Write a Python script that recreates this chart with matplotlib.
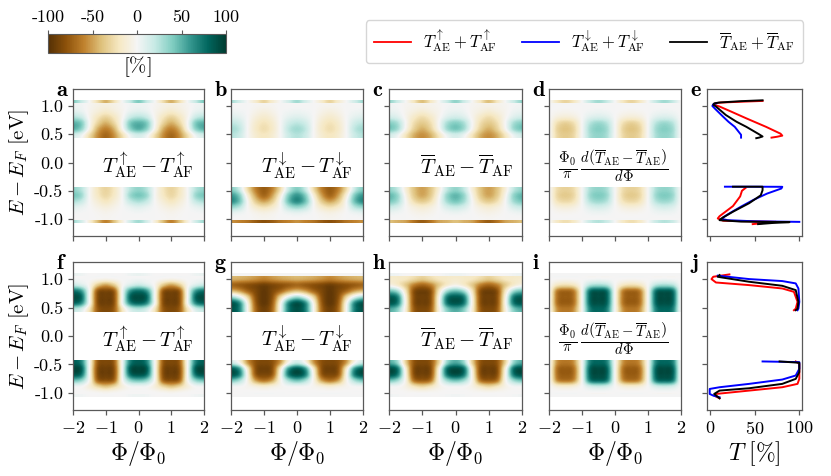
import numpy as np
import matplotlib
matplotlib.use('Agg')
from matplotlib import pyplot as plt
from matplotlib.lines import Line2D
from matplotlib.colors import Normalize
from matplotlib.cm import ScalarMappable

plt.rcParams['font.family'] = 'serif'
plt.rcParams['font.serif'] = ['cmr10']
plt.rcParams['mathtext.fontset'] = 'cm'
plt.rcParams['axes.unicode_minus'] = False
plt.rcParams['axes.formatter.use_mathtext'] = True

# flux columns of the maps and energy rows (row centres) of the two bands
PHI = [-2, -1.75, -1.5, -1.25, -1, -0.75, -0.5, -0.25, 0, 0.25, 0.5, 0.75, 1, 1.25, 1.5, 1.75, 2]
E_UP = [1.00, 0.89, 0.79, 0.69, 0.58, 0.48]
E_LO = [-0.48, -0.58, -0.68, -0.78, -0.88, -0.98]
E_STRIP_TOP = 1.09
E_STRIP_BOT = -1.07
Z0 = [0] * 17

# map values in %, upper band: first row is the thin strip at the top
A_UP = [[40, 20, 0, -25, -45, -25, 0, 20, 40, 20, 0, -25, -45, -25, 0, 20, 40],
        [3, 2, -2, -6, -8, -6, -2, 2, 3, 2, -2, -6, -8, -6, -2, 2, 3],
        [8, 5, -3, -10, -15, -10, -3, 5, 8, 5, -3, -10, -15, -10, -3, 5, 8],
        [25, 18, -3, -20, -30, -20, -3, 18, 25, 18, -3, -20, -30, -20, -3, 18, 25],
        [50, 40, 0, -30, -45, -30, 0, 40, 50, 40, 0, -30, -45, -30, 0, 40, 50],
        [50, 35, -5, -45, -60, -45, -5, 35, 50, 35, -5, -45, -60, -45, -5, 35, 50],
        [15, 5, -25, -55, -70, -55, -25, 5, 15, 5, -25, -55, -70, -55, -25, 5, 15]]
# lower band: last row is the thin strip at the bottom
A_LO = [[35, 25, 0, -20, -30, -20, 0, 25, 35, 25, 0, -20, -30, -20, 0, 25, 35],
        [42, 32, 0, -18, -28, -18, 0, 32, 42, 32, 0, -18, -28, -18, 0, 32, 42],
        [28, 20, 0, -12, -20, -12, 0, 20, 28, 20, 0, -12, -20, -12, 0, 20, 28],
        [10, 6, 0, -6, -10, -6, 0, 6, 10, 6, 0, -6, -10, -6, 0, 6, 10],
        [2, 1, 0, -2, -4, -2, 0, 1, 2, 1, 0, -2, -4, -2, 0, 1, 2],
        [0, 0, 0, -1, -2, -1, 0, 0, 0, 0, 0, -1, -2, -1, 0, 0, 0],
        [30, 15, -10, -40, -60, -40, -10, 15, 30, 15, -10, -40, -60, -40, -10, 15, 30]]

B_UP = [[30, 15, 0, -15, -30, -15, 0, 15, 30, 15, 0, -15, -30, -15, 0, 15, 30],
        [0, 0, 0, -2, -3, -2, 0, 0, 0, 0, 0, -2, -3, -2, 0, 0, 0],
        [3, 2, 0, -5, -8, -5, 0, 2, 3, 2, 0, -5, -8, -5, 0, 2, 3],
        [10, 7, 0, -10, -15, -10, 0, 7, 10, 7, 0, -10, -15, -10, 0, 7, 10],
        [22, 16, 0, -15, -22, -15, 0, 16, 22, 16, 0, -15, -22, -15, 0, 16, 22],
        [30, 22, 0, -17, -25, -17, 0, 22, 30, 22, 0, -17, -25, -17, 0, 22, 30],
        [25, 18, 0, -14, -20, -14, 0, 18, 25, 18, 0, -14, -20, -14, 0, 18, 25]]
B_LO = [[40, 20, -25, -60, -75, -60, -25, 20, 40, 20, -25, -60, -75, -60, -25, 20, 40],
        [60, 40, -10, -50, -70, -50, -10, 40, 60, 40, -10, -50, -70, -50, -10, 40, 60],
        [65, 45, 0, -35, -50, -35, 0, 45, 65, 45, 0, -35, -50, -35, 0, 45, 65],
        [35, 25, 0, -17, -25, -17, 0, 25, 35, 25, 0, -17, -25, -17, 0, 25, 35],
        [8, 5, 0, -5, -8, -5, 0, 5, 8, 5, 0, -5, -8, -5, 0, 5, 8],
        [0, 0, 0, -2, -3, -2, 0, 0, 0, 0, 0, -2, -3, -2, 0, 0, 0],
        [-55, -60, -65, -75, -80, -75, -65, -60, -55, -60, -65, -75, -80, -75, -65, -60, -55]]

C_UP = [[35, 18, 0, -20, -40, -20, 0, 18, 35, 18, 0, -20, -40, -20, 0, 18, 35],
        [2, 1, -2, -4, -5, -4, -2, 1, 2, 1, -2, -4, -5, -4, -2, 1, 2],
        [5, 3, -3, -8, -12, -8, -3, 3, 5, 3, -3, -8, -12, -8, -3, 3, 5],
        [15, 10, -3, -17, -25, -17, -3, 10, 15, 10, -3, -17, -25, -17, -3, 10, 15],
        [38, 28, 0, -25, -35, -25, 0, 28, 38, 28, 0, -25, -35, -25, 0, 28, 38],
        [42, 30, -3, -32, -45, -32, -3, 30, 42, 30, -3, -32, -45, -32, -3, 30, 42],
        [15, 5, -20, -45, -55, -45, -20, 5, 15, 5, -20, -45, -55, -45, -20, 5, 15]]
C_LO = [[35, 22, -10, -38, -50, -38, -10, 22, 35, 22, -10, -38, -50, -38, -10, 22, 35],
        [48, 34, -4, -35, -48, -35, -4, 34, 48, 34, -4, -35, -48, -35, -4, 34, 48],
        [42, 30, 0, -25, -35, -25, 0, 30, 42, 30, 0, -25, -35, -25, 0, 30, 42],
        [20, 14, 0, -10, -15, -10, 0, 14, 20, 14, 0, -10, -15, -10, 0, 14, 20],
        [5, 3, 0, -4, -6, -4, 0, 3, 5, 3, 0, -4, -6, -4, 0, 3, 5],
        [0, 0, 0, -1, -2, -1, 0, 0, 0, 0, 0, -1, -2, -1, 0, 0, 0],
        [-40, -45, -50, -65, -75, -65, -50, -45, -40, -45, -50, -65, -75, -65, -50, -45, -40]]

D_UP = [[0, -20, -30, -20, 0, 20, 30, 20, 0, -20, -30, -20, 0, 20, 30, 20, 0],
        Z0,
        [0, -2, -3, -2, 0, 2, 3, 2, 0, -2, -3, -2, 0, 2, 3, 2, 0],
        [0, -9, -12, -9, 0, 9, 12, 9, 0, -9, -12, -9, 0, 9, 12, 9, 0],
        [0, -24, -32, -24, 0, 24, 32, 24, 0, -24, -32, -24, 0, 24, 32, 24, 0],
        [0, -30, -38, -30, 0, 30, 38, 30, 0, -30, -38, -30, 0, 30, 38, 30, 0],
        [0, -28, -35, -28, 0, 28, 35, 28, 0, -28, -35, -28, 0, 28, 35, 28, 0]]
D_LO = [[0, -26, -32, -26, 0, 28, 35, 28, 0, -26, -32, -26, 0, 28, 35, 28, 0],
        [0, -28, -35, -28, 0, 32, 40, 32, 0, -28, -35, -28, 0, 32, 40, 32, 0],
        [0, -22, -28, -22, 0, 25, 32, 25, 0, -22, -28, -22, 0, 25, 32, 25, 0],
        [0, -9, -12, -9, 0, 11, 15, 11, 0, -9, -12, -9, 0, 11, 15, 11, 0],
        [0, -2, -3, -2, 0, 3, 4, 3, 0, -2, -3, -2, 0, 3, 4, 3, 0],
        Z0,
        [0, -18, -25, -18, 0, 18, 25, 18, 0, -18, -25, -18, 0, 18, 25, 18, 0]]

F_UP = [[5, 3, 0, 0, 0, 0, 0, 3, 5, 3, 0, 0, 0, 0, 0, 3, 5],
        [2, 1, 0, -3, -5, -3, 0, 1, 2, 1, 0, -3, -5, -3, 0, 1, 2],
        [20, 12, -3, -35, -50, -35, -3, 12, 20, 12, -3, -35, -50, -35, -3, 12, 20],
        [75, 60, 0, -75, -85, -75, 0, 60, 75, 60, 0, -75, -85, -75, 0, 60, 75],
        [92, 80, 0, -80, -90, -80, 0, 80, 92, 80, 0, -80, -90, -80, 0, 80, 92],
        [80, 65, 0, -80, -90, -80, 0, 65, 80, 65, 0, -80, -90, -80, 0, 65, 80],
        [25, 15, -20, -75, -85, -75, -20, 15, 25, 15, -20, -75, -85, -75, -20, 15, 25]]
F_LO = [[85, 70, 0, -75, -85, -75, 0, 70, 85, 70, 0, -75, -85, -75, 0, 70, 85],
        [95, 85, 0, -80, -90, -80, 0, 85, 95, 85, 0, -80, -90, -80, 0, 85, 95],
        [88, 75, 0, -80, -90, -80, 0, 75, 88, 75, 0, -80, -90, -80, 0, 75, 88],
        [45, 35, -3, -70, -80, -70, -3, 35, 45, 35, -3, -70, -80, -70, -3, 35, 45],
        [3, 2, -10, -30, -40, -30, -10, 2, 3, 2, -10, -30, -40, -30, -10, 2, 3],
        [0, 0, -1, -3, -5, -3, -1, 0, 0, 0, -1, -3, -5, -3, -1, 0, 0],
        [3, 2, 0, 0, 0, 0, 0, 2, 3, 2, 0, 0, 0, 0, 0, 2, 3]]

G_UP = [Z0,
        [-45, -47, -50, -55, -60, -55, -50, -47, -45, -47, -50, -55, -60, -55, -50, -47, -45],
        [-70, -75, -80, -85, -90, -85, -80, -75, -70, -75, -80, -85, -90, -85, -80, -75, -70],
        [-40, -50, -70, -85, -95, -85, -70, -50, -40, -50, -70, -85, -95, -85, -70, -50, -40],
        [30, 10, -30, -80, -95, -80, -30, 10, 30, 10, -30, -80, -95, -80, -30, 10, 30],
        [88, 65, -5, -75, -95, -75, -5, 65, 88, 65, -5, -75, -95, -75, -5, 65, 88],
        [90, 70, 0, -70, -90, -70, 0, 70, 90, 70, 0, -70, -90, -70, 0, 70, 90]]
G_LO = [[20, 0, -50, -80, -85, -80, -50, 0, 20, 0, -50, -80, -85, -80, -50, 0, 20],
        [85, 60, -15, -80, -90, -80, -15, 60, 85, 60, -15, -80, -90, -80, -15, 60, 85],
        [90, 70, -5, -75, -85, -75, -5, 70, 90, 70, -5, -75, -85, -75, -5, 70, 90],
        [45, 30, -5, -50, -65, -50, -5, 30, 45, 30, -5, -50, -65, -50, -5, 30, 45],
        [3, 2, -3, -10, -15, -10, -3, 2, 3, 2, -3, -10, -15, -10, -3, 2, 3],
        Z0,
        Z0]

H_UP = [[3, 2, 0, 0, 0, 0, 0, 2, 3, 2, 0, 0, 0, 0, 0, 2, 3],
        [-15, -17, -20, -28, -35, -28, -20, -17, -15, -17, -20, -28, -35, -28, -20, -17, -15],
        [-5, -15, -35, -60, -70, -60, -35, -15, -5, -15, -35, -60, -70, -60, -35, -15, -5],
        [45, 30, -20, -80, -90, -80, -20, 30, 45, 30, -20, -80, -90, -80, -20, 30, 45],
        [85, 70, -8, -80, -90, -80, -8, 70, 85, 70, -8, -80, -90, -80, -8, 70, 85],
        [88, 72, -5, -80, -90, -80, -5, 72, 88, 72, -5, -80, -90, -80, -5, 72, 88],
        [55, 40, -10, -75, -85, -75, -10, 40, 55, 40, -10, -75, -85, -75, -10, 40, 55]]
H_LO = [[55, 35, -30, -78, -85, -78, -30, 35, 55, 35, -30, -78, -85, -78, -30, 35, 55],
        [92, 75, -10, -82, -90, -82, -10, 75, 92, 75, -10, -82, -90, -82, -10, 75, 92],
        [90, 72, -5, -80, -88, -80, -5, 72, 90, 72, -5, -80, -88, -80, -5, 72, 90],
        [45, 32, -5, -65, -75, -65, -5, 32, 45, 32, -5, -65, -75, -65, -5, 32, 45],
        [3, 2, -6, -22, -30, -22, -6, 2, 3, 2, -6, -22, -30, -22, -6, 2, 3],
        [0, 0, -1, -2, -3, -2, -1, 0, 0, 0, -1, -2, -3, -2, -1, 0, 0],
        [2, 1, 0, 0, 0, 0, 0, 1, 2, 1, 0, 0, 0, 0, 0, 1, 2]]

I_UP = [Z0,
        [0, -1, -2, -1, 0, 1, 2, 1, 0, -1, -2, -1, 0, 1, 2, 1, 0],
        [0, -20, -25, -20, 0, 25, 30, 25, 0, -20, -25, -20, 0, 25, 30, 25, 0],
        [0, -60, -70, -60, 0, 75, 85, 75, 0, -60, -70, -60, 0, 75, 85, 75, 0],
        [0, -65, -75, -65, 0, 82, 92, 82, 0, -65, -75, -65, 0, 82, 92, 82, 0],
        [0, -65, -75, -65, 0, 80, 90, 80, 0, -65, -75, -65, 0, 80, 90, 80, 0],
        [0, -55, -65, -55, 0, 70, 80, 70, 0, -55, -65, -55, 0, 70, 80, 70, 0]]
I_LO = [[0, -55, -65, -55, 0, 70, 80, 70, 0, -55, -65, -55, 0, 70, 80, 70, 0],
        [0, -65, -75, -65, 0, 82, 92, 82, 0, -65, -75, -65, 0, 82, 92, 82, 0],
        [0, -65, -75, -65, 0, 82, 92, 82, 0, -65, -75, -65, 0, 82, 92, 82, 0],
        [0, -55, -65, -55, 0, 70, 80, 70, 0, -55, -65, -55, 0, 70, 80, 70, 0],
        [0, -12, -15, -12, 0, 16, 20, 16, 0, -12, -15, -12, 0, 16, 20, 16, 0],
        Z0,
        Z0]

nan = np.nan
# panel e: total transmissions T [%] against E - E_F [eV]
E_RED_E = [1.089, 1.075, 1.06, 1.045, 1.02, 0.99, 0.9, 0.78, 0.63, 0.51, 0.475, 0.455, 0.44, nan,
           -0.45, -0.5, -0.6, -0.77, -0.95, -0.99, -1.03, -1.05, -1.07, -1.09]
T_RED_E = [59, 35, 12, 6, 5, 11, 24, 41, 63, 79, 81, 75, 69, nan,
           40, 36, 34, 26, 11, 9, 15, 74, 60, 48]
E_BLUE_E = [1.05, 1.03, 1.0, 0.95, 0.81, 0.72, 0.63, 0.55, 0.49, 0.44, nan,
            -0.428, -0.428, -0.43, -0.46, -0.55, -0.66, -0.78, -0.9, -0.97, -1.0, -1.02, -1.04, -1.05]
T_BLUE_E = [8, 4, 3, 6, 15, 21, 28, 32, 35, 35, nan,
            17, 50, 81, 80, 64, 49, 35, 22, 15, 14, 20, 50, 100]
E_BLACK_E = [1.1, 1.085, 1.06, 1.045, 1.02, 0.99, 0.84, 0.72, 0.63, 0.5, 0.46, 0.44, 0.43, nan,
             -0.428, -0.428, -0.49, -0.58, -0.72, -0.87, -0.99, -1.02, -1.045, -1.055, -1.07, -1.09]
T_BLACK_E = [59, 35, 10, 5, 4, 7, 18, 30, 41, 55, 59, 55, 52, nan,
             26, 59, 59, 57, 44, 26, 13, 11, 35, 89, 70, 54]

# panel j
E_RED_J = [1.082, 1.041, 1.0, 0.94, 0.894, 0.835, 0.776, 0.6, 0.48, 0.453, nan,
           -0.447, -0.488, -0.753, -0.841, -0.9, -0.959, -1.018, -1.047, -1.094]
T_RED_J = [22, 4, 2, 7, 44, 81, 94, 98, 96, 94, nan,
           96, 100, 100, 98, 81, 44, 7, 5, 11]
E_BLUE_J = [1.06, 1.0, 0.965, 0.924, 0.835, 0.6, 0.48, 0.453, nan,
            -0.447, -0.459, -0.576, -0.694, -0.765, -0.841, -0.9, -0.93, -1.018, -1.047, -1.076]
T_BLUE_J = [9, 44, 81, 96, 99, 100, 99, 98, nan,
            59, 100, 100, 96, 81, 44, 11, 0, 0, 4, 11]
E_BLACK_J = [1.07, 1.04, 0.953, 0.882, 0.806, 0.6, 0.48, 0.453, nan,
             -0.447, -0.47, -0.635, -0.753, -0.841, -0.918, -0.959, -1.018, -1.094]
T_BLACK_J = [11, 9, 44, 81, 96, 99, 98, 96, nan,
             78, 100, 100, 96, 81, 44, 11, 5, 11]

LETTERS = ['a', 'b', 'c', 'd', 'e', 'f', 'g', 'h', 'i', 'j']
TEXTS = [r'$T^{\uparrow}_{\mathrm{AE}}-T^{\uparrow}_{\mathrm{AF}}$',
         r'$T^{\downarrow}_{\mathrm{AE}}-T^{\downarrow}_{\mathrm{AF}}$',
         r'$\overline{T}_{\mathrm{AE}}-\overline{T}_{\mathrm{AF}}$',
         r'$\frac{\Phi_0}{\pi}\,\frac{d\left(\overline{T}_{\mathrm{AE}}-\overline{T}_{\mathrm{AE}}\right)}{d\Phi}$']
LEGEND = [r'$T^{\uparrow}_{\mathrm{AE}}+T^{\uparrow}_{\mathrm{AF}}$',
          r'$T^{\downarrow}_{\mathrm{AE}}+T^{\downarrow}_{\mathrm{AF}}$',
          r'$\overline{T}_{\mathrm{AE}}+\overline{T}_{\mathrm{AF}}$']

W, H = 831, 476
fig = plt.figure(figsize=(W / 100, H / 100), dpi=100)
norm = Normalize(-100, 100)
cmap = 'BrBG'
GREY = '0.35'
INTERP = 'catrom'


def px_axes(l, t, r, b):
    return fig.add_axes([l / W, 1 - b / H, (r - l) / W, (b - t) / H])


def style(ax):
    for s in ax.spines.values():
        s.set_color(GREY)
        s.set_linewidth(0.9)
    ax.tick_params(direction='out', length=3.5, width=0.9, color=GREY, labelsize=13)


def draw_map(ax, up, lo):
    up = np.array(up, float)
    lo = np.array(lo, float)
    dphi = PHI[1] - PHI[0]
    x0, x1 = PHI[0] - dphi / 2, PHI[-1] + dphi / 2
    kw = dict(cmap=cmap, norm=norm, aspect='auto', interpolation=INTERP,
              interpolation_stage='data')
    st = (E_UP[0] - E_UP[-1]) / (len(E_UP) - 1)
    top_main = E_UP[0] + st / 2
    ax.imshow(up[1:], extent=[x0, x1, E_UP[-1] - st / 2, top_main], **kw)
    ax.imshow(up[:1], extent=[x0, x1, top_main, E_STRIP_TOP], **kw)
    st = (E_LO[0] - E_LO[-1]) / (len(E_LO) - 1)
    bot_main = E_LO[-1] - st / 2
    ax.imshow(lo[:-1], extent=[x0, x1, bot_main, E_LO[0] + st / 2], **kw)
    ax.imshow(lo[-1:], extent=[x0, x1, E_STRIP_BOT, bot_main], **kw)
    ax.set_xlim(-2, 2)


cols = [(73, 204), (231, 363), (389, 522), (549, 681), (707, 802)]
rows = [(89, 236), (262, 410)]
maps = [[A_UP, A_LO], [B_UP, B_LO], [C_UP, C_LO], [D_UP, D_LO],
        [F_UP, F_LO], [G_UP, G_LO], [H_UP, H_LO], [I_UP, I_LO]]
text_x = [0.3, 0.3, 0.35, -0.05]

lines = [[(T_RED_E, E_RED_E, 'red'), (T_BLUE_E, E_BLUE_E, 'blue'), (T_BLACK_E, E_BLACK_E, 'black')],
         [(T_RED_J, E_RED_J, 'red'), (T_BLUE_J, E_BLUE_J, 'blue'), (T_BLACK_J, E_BLACK_J, 'black')]]

k = 0
for r, (t, b) in enumerate(rows):
    for c, (l, rr) in enumerate(cols):
        ax = px_axes(l, t, rr, b)
        style(ax)
        if c < 4:
            up, lo = maps[r * 4 + c]
            draw_map(ax, up, lo)
            ax.text(text_x[c], -0.05, TEXTS[c], ha='center', va='center',
                    fontsize=15 if c < 3 else 15)
            ax.set_xticks([-2, -1, 0, 1, 2])
            if r == 1:
                ax.set_xticklabels([r'$-2$', r'$-1$', r'$0$', r'$1$', r'$2$'])
                ax.set_xlabel(r'$\Phi/\Phi_0$', fontsize=17, labelpad=2)
            else:
                ax.set_xticklabels([])
        else:
            for T, E, col in lines[r]:
                ax.plot(T, E, color=col, lw=1.4)
            ax.set_xlim(-3, 103)
            ax.set_xticks([0, 50, 100])
            if r == 1:
                ax.set_xticklabels([r'$0$', r'$50$', r'$100$'])
                ax.set_xlabel(r'$T\ [\%]$', fontsize=17, labelpad=2)
            else:
                ax.set_xticklabels([])
        ax.set_ylim(-1.3, 1.3)
        ax.set_yticks([-1, -0.5, 0, 0.5, 1])
        if c == 0:
            ax.set_yticklabels(['-1.0', '-0.5', '0.0', '0.5', '1.0'])
            ax.set_ylabel(r'$E-E_F\ [\mathrm{eV}]$', fontsize=15, labelpad=2)
        else:
            ax.set_yticklabels([])
        ax.text(-17 / (rr - l), 0.955, r'$\mathbf{%s}$' % LETTERS[k], transform=ax.transAxes,
                ha='left', va='baseline', fontsize=16)
        k += 1

# colour bar
cax = px_axes(48, 34, 226, 53)
cb = fig.colorbar(ScalarMappable(norm=norm, cmap=cmap), cax=cax, orientation='horizontal')
cb.outline.set_edgecolor(GREY)
cax.xaxis.set_ticks_position('top')
cax.xaxis.set_label_position('bottom')
cb.set_ticks([-100, -50, 0, 50, 100])
cax.set_xticklabels(['-100', '-50', '0', '50', '100'])
cax.tick_params(labelsize=13, color=GREY, length=3)
cb.set_label(r'$[\%]$', fontsize=15, labelpad=1)

# legend
handles = [Line2D([], [], color='red', lw=1.3), Line2D([], [], color='blue', lw=1.3),
           Line2D([], [], color='black', lw=1.3)]
fig.legend(handles, LEGEND, loc='center', bbox_to_anchor=(0.7034, 0.912), ncol=3,
           fontsize=12, columnspacing=1.5, handlelength=2.2, handletextpad=0.75,
           borderpad=0.5)

fig.savefig('out.png', dpi=100)
